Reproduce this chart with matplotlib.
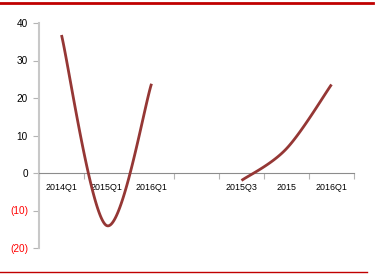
import numpy as np
import matplotlib.pyplot as plt
from matplotlib.lines import Line2D

# categories along the x axis (one empty slot separates the two groups)
categories = ['2014Q1', '2015Q1', '2016Q1', '', '2015Q3', '2015', '2016Q1']
# series 1 sits on the first three slots, series 2 on the last three
s1_pos = [0, 1, 2]
s1_vals = [36.8, -14.0, 23.8]
s2_pos = [4, 5, 6]
s2_vals = [-2.0, 6.5, 23.6]
yticks = [-20, -10, 0, 10, 20, 30, 40]

line_col = '#953735'
grid_col = '#b4b4b4'

plt.rcParams['font.family'] = ['Liberation Sans', 'DejaVu Sans']


def smooth(xs, ys, n=60):
    # Catmull-Rom style smoothing like a spreadsheet "smoothed line"
    xs = np.asarray(xs, float)
    ys = np.asarray(ys, float)
    px = np.concatenate([[xs[0]], xs, [xs[-1]]])
    py = np.concatenate([[ys[0]], ys, [ys[-1]]])
    outx, outy = [], []
    for i in range(1, len(px) - 2):
        p0 = np.array([px[i], py[i]])
        p3 = np.array([px[i + 1], py[i + 1]])
        c1 = p0 + (p3 - np.array([px[i - 1], py[i - 1]])) / 6
        c2 = p3 - (np.array([px[i + 2], py[i + 2]]) - p0) / 6
        t = np.linspace(0, 1, n)[:, None]
        b = (1 - t) ** 3 * p0 + 3 * (1 - t) ** 2 * t * c1 + 3 * (1 - t) * t ** 2 * c2 + t ** 3 * p3
        outx.extend(b[:, 0])
        outy.extend(b[:, 1])
    return outx, outy


fig = plt.figure(figsize=(3.83, 2.76), dpi=100)
ax = fig.add_axes([39 / 383, 28 / 276, 315 / 383, 225 / 276])

for pos, vals in [(s1_pos, s1_vals), (s2_pos, s2_vals)]:
    x, y = smooth(pos, vals)
    ax.plot(x, y, color=line_col, lw=2.0, solid_capstyle='butt', zorder=3)

ax.set_xlim(-0.5, len(categories) - 0.5)
ax.set_ylim(-20, 40)

# category boundaries get the tick marks, labels sit at slot centres
ax.set_xticks(np.arange(len(categories) + 1) - 0.5)
ax.set_xticks(np.arange(len(categories)), minor=True)
ax.xaxis.set_major_formatter(plt.NullFormatter())
ax.xaxis.set_minor_formatter(plt.FixedFormatter(categories))
ax.tick_params(axis='x', which='minor', length=0, pad=7, labelsize=6.4)
ax.tick_params(axis='x', which='major', length=4, color=grid_col, direction='out')

ax.set_yticks(yticks)
ax.yaxis.set_major_formatter(plt.FixedFormatter([str(v) if v >= 0 else f'({-v})' for v in yticks]))
ax.tick_params(axis='y', length=4, color=grid_col, pad=4, labelsize=7.2)

ax.spines['bottom'].set_position(('data', 0))
ax.spines['bottom'].set_color('#8c8c8c')
ax.spines['left'].set_color('#c8c8c8')
ax.spines['left'].set_linewidth(1.5)
ax.spines['top'].set_visible(False)
ax.spines['right'].set_visible(False)

fig.canvas.draw()
for lab, v in zip(ax.get_yticklabels(), yticks):
    if v < 0:
        lab.set_color('#ff0000')

# red rules at top and bottom of the image
fig.add_artist(Line2D([0, 373 / 383], [1 - 3 / 276, 1 - 3 / 276], color='#c00000', lw=2))
fig.add_artist(Line2D([0, 367 / 383], [4 / 276, 4 / 276], color='#c00000', lw=1))

fig.savefig('out.png', dpi=100)
